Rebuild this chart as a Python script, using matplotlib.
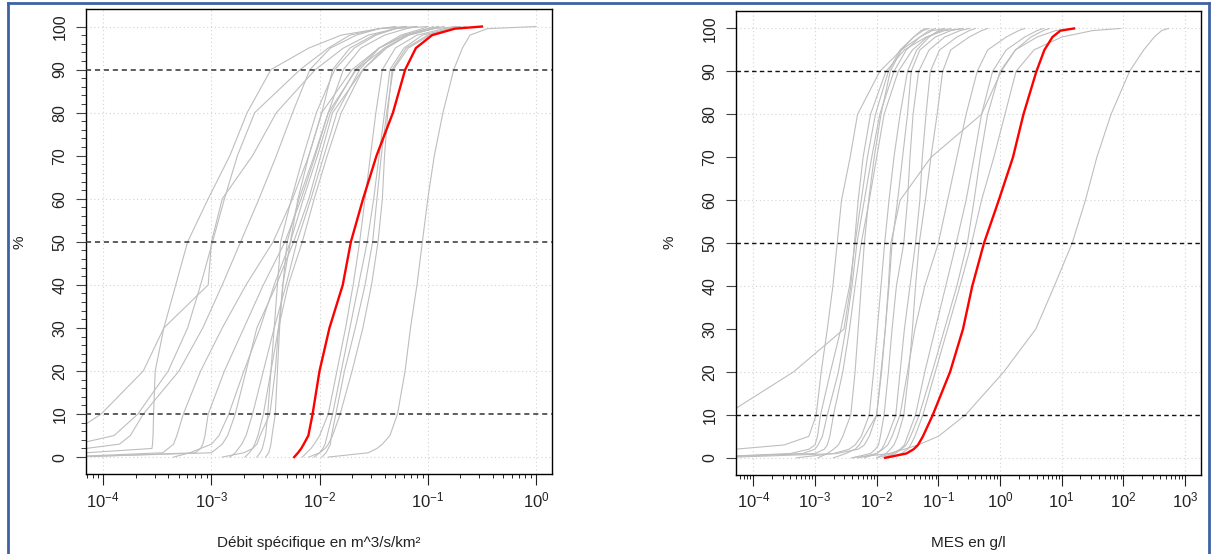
import numpy as np
import matplotlib
matplotlib.use("Agg")
import matplotlib.pyplot as plt
from matplotlib.lines import Line2D

plt.rcParams['font.family'] = ['Liberation Sans', 'DejaVu Sans']
plt.rcParams['mathtext.fontset'] = 'custom'
plt.rcParams['mathtext.rm'] = 'Liberation Sans'
plt.rcParams['mathtext.it'] = 'Liberation Sans:italic'
plt.rcParams['mathtext.bf'] = 'Liberation Sans:bold'

# ---------------- data (log10 of the value at each cumulative percentage) ----------------
PCT = [0, 1, 2, 3, 5, 10, 20, 30, 40, 50, 60, 70, 80, 90, 95, 98, 99.5, 100]

# Left panel : specific discharge (m^3/s/km^2)
left_red = [-2.235, -2.20, -2.17, -2.147, -2.104, -2.065, -2.001, -1.909, -1.786, -1.711,
            -1.598, -1.474, -1.322, -1.209, -1.11, -0.96, -0.75, -0.50]
left_g01 = [-4.70, -4.60, -4.52, -4.45, -4.32, -4.02, -3.63, -3.44, -3.33, -3.22, -3.03, -2.83, -2.67, -2.45, -2.10, -1.80, -1.45, -1.10]
left_g02 = [-5.00, -4.80, -4.50, -4.25, -3.90, -3.68, -3.40, -3.22, -3.10, -2.99, -2.88, -2.76, -2.60, -2.18, -1.92, -1.72, -1.45, -1.20]
left_g03 = [-4.80, -4.50, -4.16, -3.85, -3.75, -3.63, -3.30, -3.08, -2.90, -2.73, -2.56, -2.40, -2.25, -2.09, -1.90, -1.66, -1.45, -1.30]
left_g04 = [-4.60, -4.16, -3.55, -3.545, -3.54, -3.535, -3.52, -3.44, -3.03, -3.00, -2.90, -2.62, -2.40, -2.04, -1.78, -1.55, -1.30, -1.00]
left_g05 = [-4.40, -3.45, -3.40, -3.35, -3.32, -3.26, -3.10, -2.90, -2.68, -2.43, -2.25, -2.10, -1.98, -1.88, -1.72, -1.50, -1.30, -1.20]
left_g06 = [-4.30, -3.15, -3.10, -3.08, -3.06, -3.03, -2.88, -2.70, -2.52, -2.32, -2.17, -2.04, -1.92, -1.78, -1.62, -1.40, -1.20, -1.10]
left_g07 = [-3.35, -3.20, -3.10, -3.00, -2.93, -2.84, -2.70, -2.55, -2.42, -2.27, -2.15, -2.02, -1.90, -1.67, -1.45, -1.20, -1.00, -0.90]
left_g08 = [-4.30, -3.00, -2.95, -2.90, -2.85, -2.78, -2.68, -2.58, -2.40, -2.24, -2.10, -1.99, -1.88, -1.60, -1.38, -1.18, -0.95, -0.70]
left_g09 = [-2.83, -2.78, -2.75, -2.72, -2.68, -2.62, -2.52, -2.42, -2.31, -2.21, -2.08, -1.96, -1.84, -1.63, -1.45, -1.25, -1.05, -1.00]
left_g10 = [-2.69, -2.65, -2.62, -2.60, -2.57, -2.52, -2.45, -2.38, -2.29, -2.16, -2.05, -1.93, -1.80, -1.60, -1.40, -1.18, -0.95, -0.90]
left_g11 = [-2.58, -2.55, -2.53, -2.52, -2.50, -2.48, -2.45, -2.42, -2.39, -2.36, -2.26, -2.15, -2.03, -1.86, -1.68, -1.48, -1.30, -1.20]
left_g12 = [-2.50, -2.47, -2.46, -2.45, -2.44, -2.41, -2.39, -2.37, -2.34, -2.30, -2.19, -2.05, -1.92, -1.66, -1.40, -1.18, -0.95, -0.85]
left_g13 = [-2.90, -2.70, -2.62, -2.58, -2.55, -2.46, -2.41, -2.38, -2.34, -2.27, -2.20, -2.10, -1.98, -1.70, -1.45, -1.22, -1.00, -0.95]
left_g14 = [-2.16, -2.12, -2.08, -2.05, -2.00, -1.92, -1.84, -1.76, -1.69, -1.63, -1.58, -1.53, -1.48, -1.42, -1.30, -1.10, -0.85, -0.75]
left_g15 = [-2.05, -2.00, -1.97, -1.95, -1.93, -1.88, -1.80, -1.72, -1.64, -1.56, -1.50, -1.45, -1.40, -1.35, -1.22, -1.05, -0.80, -0.70]
left_g16 = [-1.98, -1.94, -1.92, -1.90, -1.89, -1.85, -1.77, -1.67, -1.58, -1.51, -1.47, -1.43, -1.38, -1.32, -1.18, -0.98, -0.75, -0.65]
left_g17 = [-2.10, -2.00, -1.95, -1.92, -1.88, -1.81, -1.70, -1.60, -1.52, -1.46, -1.42, -1.40, -1.37, -1.33, -1.20, -1.00, -0.80, -0.70]
left_g18 = [-1.92, -1.55, -1.47, -1.42, -1.35, -1.28, -1.21, -1.16, -1.10, -1.05, -1.00, -0.94, -0.86, -0.76, -0.68, -0.61, -0.45, 0.00]

# Right panel : suspended matter (g/l)
right_red = [-1.862, -1.52, -1.40, -1.33, -1.25, -1.09, -0.81, -0.60, -0.45, -0.26,
             -0.02, 0.21, 0.38, 0.59, 0.72, 0.85, 0.98, 1.20]
right_g01 = [-6.00, -5.80, -5.60, -5.40, -5.00, -4.45, -3.35, -2.53, -2.42, -2.36, -2.30, -2.22, -2.10, -1.85, -1.55, -1.20, -0.90, -0.60]
right_g02 = [-5.50, -5.00, -4.30, -3.50, -3.10, -2.98, -2.90, -2.80, -2.71, -2.64, -2.57, -2.43, -2.31, -1.95, -1.60, -1.30, -1.10, -0.90]
right_g03 = [-5.00, -3.40, -3.10, -3.00, -2.96, -2.91, -2.75, -2.58, -2.44, -2.35, -2.25, -2.15, -2.02, -1.81, -1.62, -1.40, -1.25, -1.15]
right_g04 = [-5.00, -3.20, -3.00, -2.95, -2.88, -2.80, -2.62, -2.50, -2.40, -2.32, -2.20, -2.08, -1.95, -1.72, -1.52, -1.30, -1.15, -1.05]
right_g05 = [-5.00, -3.00, -2.85, -2.80, -2.76, -2.70, -2.55, -2.44, -2.35, -2.25, -2.12, -2.00, -1.88, -1.65, -1.42, -1.18, -0.95, -0.80]
right_g06 = [-2.95, -2.80, -2.70, -2.62, -2.55, -2.42, -2.35, -2.30, -2.25, -2.20, -2.13, -2.04, -1.93, -1.78, -1.60, -1.40, -1.28, -1.20]
right_g07 = [-3.30, -2.70, -2.45, -2.35, -2.25, -2.12, -2.05, -1.99, -1.93, -1.87, -1.80, -1.72, -1.62, -1.50, -1.35, -1.15, -1.00, -0.90]
right_g08 = [-4.60, -2.65, -2.30, -2.20, -2.12, -2.00, -1.92, -1.86, -1.80, -1.75, -1.66, -1.58, -1.50, -1.44, -1.30, -1.05, -0.80, -0.60]
right_g09 = [-2.40, -2.10, -2.02, -1.97, -1.94, -1.88, -1.81, -1.75, -1.68, -1.56, -1.50, -1.46, -1.41, -1.32, -1.15, -0.90, -0.65, -0.50]
right_g10 = [-2.30, -2.00, -1.92, -1.88, -1.82, -1.69, -1.62, -1.55, -1.46, -1.37, -1.30, -1.26, -1.20, -1.13, -0.98, -0.70, -0.50, -0.40]
right_g11 = [-2.00, -1.85, -1.78, -1.72, -1.66, -1.56, -1.48, -1.42, -1.37, -1.31, -1.21, -1.12, -1.02, -0.93, -0.80, -0.50, -0.30, -0.20]
right_g12 = [-2.20, -2.00, -1.90, -1.82, -1.75, -1.62, -1.50, -1.38, -1.22, -1.00, -0.85, -0.70, -0.55, -0.37, -0.20, 0.10, 0.30, 0.40]
right_g13 = [-2.70, -2.50, -2.35, -2.28, -2.20, -2.00, -1.93, -1.86, -1.81, -1.77, -1.62, -1.12, -0.30, 0.02, 0.25, 0.50, 0.70, 0.80]
right_g14 = [-2.00, -1.75, -1.62, -1.55, -1.50, -1.37, -1.22, -1.05, -0.88, -0.71, -0.55, -0.42, -0.30, -0.12, 0.10, 0.40, 0.60, 0.70]
right_g15 = [-1.90, -1.70, -1.60, -1.52, -1.45, -1.31, -1.10, -0.90, -0.70, -0.53, -0.42, -0.32, -0.20, 0.00, 0.25, 0.60, 0.90, 1.20]
right_g16 = [-1.80, -1.60, -1.50, -1.45, -1.38, -1.25, -1.05, -0.85, -0.65, -0.46, -0.30, -0.10, 0.08, 0.26, 0.55, 1.00, 1.50, 1.95]
right_g17 = [-2.40, -1.80, -1.55, -1.33, -1.00, -0.56, 0.06, 0.58, 0.88, 1.17, 1.385, 1.57, 1.80, 2.10, 2.33, 2.50, 2.62, 2.73]

left_greys = [left_g01, left_g02, left_g03, left_g04, left_g05, left_g06, left_g07, left_g08, left_g09,
              left_g10, left_g11, left_g12, left_g13, left_g14, left_g15, left_g16, left_g17, left_g18]
right_greys = [right_g01, right_g02, right_g03, right_g04, right_g05, right_g06, right_g07, right_g08, right_g09,
               right_g10, right_g11, right_g12, right_g13, right_g14, right_g15, right_g16, right_g17]

ref_levels = [10, 50, 90]
ytick_vals = list(range(0, 101, 10))
left_decades = [-4, -3, -2, -1, 0]
right_decades = [-4, -3, -2, -1, 0, 1, 2, 3]
left_xlabel = "Débit spécifique en m^3/s/km²"
right_xlabel = "MES en g/l"

# ---------------- figure ----------------
W, H = 1212, 554
fig = plt.figure(figsize=(W / 100, H / 100), dpi=100)
fig.patch.set_facecolor('white')


def px_rect(l, t, r, b):
    return [l / W, 1 - b / H, (r - l) / W, (b - t) / H]


ax1 = fig.add_axes(px_rect(86.3, 9.3, 552.3, 474.3))
ax2 = fig.add_axes(px_rect(736.3, 11.3, 1201.0, 475.0))


def setup(ax, decades, xl, minor_y, dash_col, dash_lw):
    ax.set_xscale('log')
    ax.set_xlim(10 ** xl[0], 10 ** xl[1])
    ax.set_ylim(-4, 104)
    # grid
    for d in decades:
        ax.axvline(10.0 ** d, color='#d3d3d3', lw=0.8, ls=(0, (1, 2.5)), zorder=1)
    for yv in range(0, 101, 20):
        ax.axhline(yv, color='#d3d3d3', lw=0.8, ls=(0, (1, 2.5)), zorder=1)
    for lv in ref_levels:
        ax.axhline(lv, color=dash_col, lw=dash_lw, ls=(0, (3.2, 2.4)), zorder=3)
    ax.set_xticks([10.0 ** d for d in decades])
    ax.set_xticklabels([r'$\mathregular{10^{%d}}$' % d for d in decades])
    mins = [m * 10.0 ** k for k in range(decades[0] - 1, decades[-1] + 1) for m in range(2, 10)]
    mins = [v for v in mins if 10 ** xl[0] <= v <= 10 ** xl[1]]
    ax.set_xticks(mins, minor=True)
    ax.set_xticklabels([], minor=True)
    ax.set_yticks(ytick_vals)
    ax.set_yticklabels([str(v) for v in ytick_vals], rotation=90, va='center')
    if minor_y:
        ax.set_yticks([v for v in range(0, 101, 2) if v % 10], minor=True)
    else:
        ax.set_yticks([], minor=True)
    ax.tick_params(axis='x', which='major', length=8, width=0.8, color='#222222',
                   labelsize=12, pad=3.5, labelcolor='#222222')
    ax.tick_params(axis='x', which='minor', length=3, width=0.7, color='#222222')
    ax.tick_params(axis='y', which='major', length=7, width=0.8, color='#444444',
                   labelsize=11.5, pad=6.5, labelcolor='#222222')
    ax.tick_params(axis='y', which='minor', length=3.5, width=0.7, color='#444444')
    for s in ax.spines.values():
        s.set_linewidth(1.0)
        s.set_color('black')


setup(ax1, left_decades, (-4.157, 0.151), True, '#3a3a3a', 1.15)
setup(ax2, right_decades, (-4.276, 3.259), False, '#111111', 1.0)

for curve in left_greys:
    ax1.plot(10.0 ** np.array(curve), PCT, color='#bebebe', lw=0.8, zorder=2)
ax1.plot(10.0 ** np.array(left_red), PCT, color='red', lw=1.7, zorder=4)

for curve in right_greys:
    ax2.plot(10.0 ** np.array(curve), PCT, color='#bebebe', lw=0.8, zorder=2)
ax2.plot(10.0 ** np.array(right_red), PCT, color='red', lw=1.7, zorder=4)

# axis titles
fig.text(20 / W, 1 - 242 / H, '%', rotation=90, ha='center', va='center', fontsize=11, color='#222222')
fig.text(670 / W, 1 - 242 / H, '%', rotation=90, ha='center', va='center', fontsize=11, color='#222222')
fig.text(319 / W, 1 - 543 / H, left_xlabel, ha='center', va='center', fontsize=11, color='#222222')
fig.text(968.5 / W, 1 - 543 / H, right_xlabel, ha='center', va='center', fontsize=11, color='#222222')

# blue frame
bc = '#4062a3'
fig.add_artist(Line2D([7.5 / W, 7.5 / W], [0, 1 - 2.5 / H], color=bc, lw=2.0, transform=fig.transFigure))
fig.add_artist(Line2D([7.5 / W, 1208.8 / W], [1 - 2.5 / H, 1 - 2.5 / H], color=bc, lw=2.0, transform=fig.transFigure))
fig.add_artist(Line2D([1208.8 / W, 1208.8 / W], [0, 1 - 2.5 / H], color=bc, lw=2.0, transform=fig.transFigure))

fig.savefig('out.png', dpi=100, facecolor='white')
